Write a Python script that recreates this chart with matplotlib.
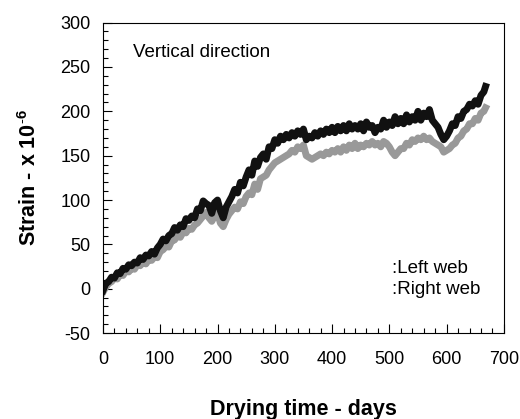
import matplotlib
matplotlib.use('Agg')
import matplotlib.pyplot as plt
from matplotlib.ticker import MultipleLocator

plt.rcParams['font.family'] = ['Liberation Sans', 'DejaVu Sans']
plt.rcParams['mathtext.fontset'] = 'custom'
plt.rcParams['mathtext.bf'] = 'Liberation Sans:bold'
plt.rcParams['mathtext.rm'] = 'Liberation Sans'
plt.rcParams['axes.unicode_minus'] = False

# drying time, days (both webs read at the same points)
days = [0, 5, 10, 15, 20, 25, 30, 35, 40, 45, 50, 55, 60, 65, 70, 75, 80, 85, 90, 95,
        100, 105, 110, 115, 120, 125, 130, 135, 140, 145, 150, 155, 160, 165, 170, 175,
        180, 185, 190, 195, 200, 205, 210, 215, 220, 225, 230, 235, 240, 245, 250, 255,
        260, 265, 270, 275, 280, 285, 290, 295, 300, 305, 310, 315, 320, 325, 330, 335,
        340, 345, 350, 355, 360, 365, 370, 375, 380, 385, 390, 395, 400, 405, 410, 415,
        420, 425, 430, 435, 440, 445, 450, 455, 460, 465, 470, 475, 480, 485, 490, 495,
        500, 505, 510, 515, 520, 525, 530, 535, 540, 545, 550, 555, 560, 565, 570, 575,
        580, 585, 590, 595, 600, 605, 610, 615, 620, 625, 630, 635, 640, 645, 650, 655,
        660, 665, 668]

# left web (black)
left_strain = [-2, 6, 8, 13, 12, 18, 17, 23, 22, 27, 26, 30, 29, 35, 33, 38, 37, 42, 39, 46,
               50, 56, 54, 60, 62, 69, 66, 72, 70, 79, 77, 82, 80, 90, 88, 99,
               96, 94, 85, 97, 100, 88, 80, 92, 98, 104, 112, 108, 120, 116, 126, 134,
               128, 144, 138, 148, 152, 146, 160, 158, 168, 164, 172, 168, 174, 170, 176, 172,
               178, 174, 180, 168, 172, 170, 176, 172, 178, 174, 180, 176, 182, 176, 183, 178,
               184, 178, 186, 180, 184, 180, 186, 178, 188, 182, 184, 176, 182, 180, 190, 182,
               188, 184, 194, 186, 192, 186, 196, 188, 194, 190, 200, 190, 198, 194, 202, 190,
               186, 182, 174, 168, 172, 178, 186, 184, 194, 192, 200, 202, 208, 206, 212, 208,
               218, 222, 228]

# right web (grey)
right_strain = [-4, 2, 6, 8, 12, 11, 16, 15, 20, 19, 23, 22, 27, 26, 30, 28, 33, 32, 36, 35,
                42, 44, 48, 47, 54, 55, 60, 58, 64, 63, 68, 67, 72, 74, 78, 82,
                86, 80, 76, 82, 86, 74, 70, 78, 84, 88, 92, 90, 98, 96, 104, 108,
                106, 118, 112, 124, 126, 128, 134, 138, 142, 144, 146, 148, 150, 152, 156, 154,
                160, 158, 162, 150, 148, 146, 148, 150, 152, 150, 154, 152, 156, 154, 158, 154,
                160, 156, 162, 158, 164, 158, 162, 160, 164, 162, 166, 162, 164, 160, 166, 164,
                160, 154, 150, 154, 158, 158, 164, 162, 168, 166, 170, 168, 172, 168, 170, 166,
                164, 162, 160, 154, 156, 158, 162, 164, 170, 172, 178, 180, 186, 186, 192, 190,
                198, 200, 204]

fig = plt.figure(figsize=(5.2, 4.19), dpi=100)
ax = fig.add_axes([0.198, 0.205, 0.771, 0.741])

ax.plot(days, right_strain, color='#999999', lw=5)
ax.plot(days, left_strain, color='#111111', lw=5)

ax.set_xlim(0, 700)
ax.set_ylim(-50, 300)
ax.xaxis.set_major_locator(MultipleLocator(100))
ax.xaxis.set_minor_locator(MultipleLocator(20))
ax.yaxis.set_major_locator(MultipleLocator(50))
ax.yaxis.set_minor_locator(MultipleLocator(10))
ax.tick_params(which='both', direction='in', top=False, right=False, width=0.8)
ax.tick_params(which='major', length=6.5, labelsize=13)
ax.tick_params(which='minor', length=3.5)
ax.tick_params(axis='x', pad=13)
ax.tick_params(axis='y', pad=9)
for s in ax.spines.values():
    s.set_linewidth(0.8)

ax.set_xlabel('Drying time - days', fontsize=15.5, fontweight='bold', labelpad=22)
ax.set_ylabel(r'Strain - x 10$^{\mathbf{\text{-}6}}$', fontsize=15.5, fontweight='bold', labelpad=14)

ax.text(0.075, 0.888, 'Vertical direction', transform=ax.transAxes, fontsize=13.5)
ax.text(0.72, 0.193, ':Left web', transform=ax.transAxes, fontsize=13.5)
ax.text(0.72, 0.126, ':Right web', transform=ax.transAxes, fontsize=13.5)

fig.savefig('out.png', dpi=100)
